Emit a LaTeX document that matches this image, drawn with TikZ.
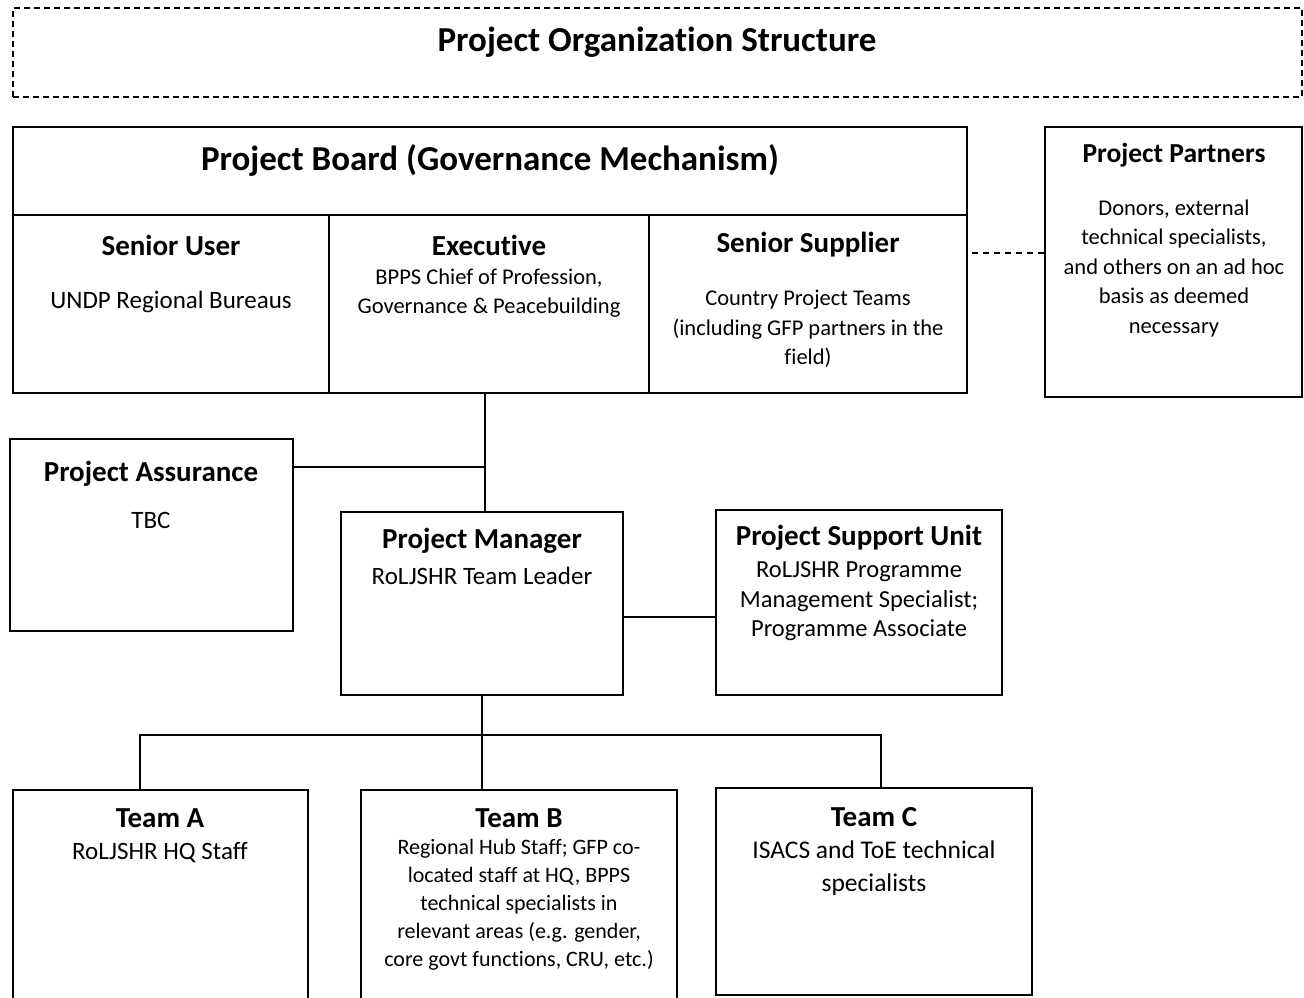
\documentclass[tikz,border=0pt]{standalone}
\usepackage{fontspec}
\setmainfont[Ligatures=NoCommon]{Carlito}
\usetikzlibrary{positioning}

\begin{document}
\begin{tikzpicture}[x=1pt,y=-1pt,line width=1.6pt,
    box/.style={draw,rectangle,inner sep=0pt},
    head/.style={inner sep=0pt,align=center,font=\bfseries\fontsize{29}{34}\selectfont},
    body/.style={inner sep=0pt,align=center,font=\fontsize{25}{29.5}\selectfont},
    small body/.style={inner sep=0pt,align=center,font=\fontsize{22.5}{29.5}\selectfont}]

            \useasboundingbox (0,0) rectangle (1304,997);

            \node[box, dashed, dash pattern=on 6pt off 4pt, line width=1.3pt, minimum width=1289, minimum height=89] (title) at (657.5,52.5) {};
            \node[inner sep=0pt, font=\bfseries\fontsize{35}{40}\selectfont] (titletext) at (657,42) {Project Organization Structure};

            \node[box, minimum width=954, minimum height=88] (board) at (490,171) {};
            \node[box, minimum width=316, minimum height=178] (user) at (171,304) {};
            \node[box, minimum width=320, minimum height=178] (exec) at (489,304) {};
            \node[box, minimum width=318, minimum height=178] (supplier) at (808,304) {};
            \node[box, minimum width=257, minimum height=270] (partners) at (1173.5,262) {};

            \node[inner sep=0pt, font=\bfseries\fontsize{35}{40}\selectfont] (boardtext) at (490,160) {Project Board (Governance Mechanism)};
            \node[head] (userhead) at (171,245) {Senior User};
            \node[body] (userbody) at (171,302) {UNDP Regional Bureaus};
            \node[head] (exechead) at (489,245) {Executive};
            \node[small body] (execbody) at (489,293) {BPPS Chief of Profession,\\Governance \& Peacebuilding};
            \node[head] (supplierhead) at (808,245) {Senior Supplier};
            \node[small body] (supplierbody) at (808,329) {Country Project Teams\\(including GFP partners in the\\field)};
            \node[head, font=\bfseries\fontsize{27.5}{32}\selectfont] (partnershead) at (1174,155) {Project Partners};
            \node[small body] (partnersbody) at (1174,268) {Donors, external\\technical specialists,\\and others on an ad hoc\\basis as deemed\\necessary};

            \node[box, minimum width=283, minimum height=192] (assurance) at (151.5,535) {};
            \node[head] (assurancehead) at (151,474) {Project Assurance};
            \node[body] (assurancebody) at (151,520) {TBC};

            \node[box, minimum width=282, minimum height=183] (manager) at (482,603.5) {};
            \node[head] (managerhead) at (482,541) {Project Manager};
            \node[body] (managerbody) at (482,576) {RoLJSHR Team Leader};

            \node[box, minimum width=286, minimum height=185] (support) at (859,602.5) {};
            \node[head] (supporthead) at (859,538) {Project Support Unit};
            \node[small body, font=\fontsize{24.5}{29.5}\selectfont] (supportbody) at (859,601.5) {RoLJSHR Programme\\Management Specialist;\\Programme Associate};

            \node[box, minimum width=295, minimum height=220] (teamA) at (160.5,900) {};
            \node[head] (teamAhead) at (160,818) {Team A};
            \node[body] (teamAbody) at (160,853) {RoLJSHR HQ Staff};

            \node[box, minimum width=316, minimum height=220] (teamB) at (519,900) {};
            \node[head] (teamBhead) at (519,818) {Team B};
            \node[body, font=\fontsize{22}{28}\selectfont] (teamBbody) at (519,905) {Regional Hub Staff; GFP co-\\located staff at HQ, BPPS\\technical specialists in\\relevant areas (e.g. gender,\\core govt functions, CRU, etc.)};

            \node[box, minimum width=316, minimum height=207] (teamC) at (874,891.5) {};
            \node[head] (teamChead) at (874,817) {Team C};
            \node[body, font=\fontsize{25.5}{33}\selectfont] (teamCbody) at (874,868.5) {ISACS and ToE technical\\specialists};

            \coordinate (assurancejoin) at (485,467);
            \coordinate (bus) at (481,735);

            \draw[dashed, dash pattern=on 6pt off 5pt, line width=1.2pt] ([yshift=9pt]partners.west) -- ([yshift=9pt]partners.west -| supplier.east);
            \draw (exec.south -| assurancejoin) -- (manager.north -| assurancejoin);
            \draw (assurancejoin -| assurance.east) -- (assurancejoin);
            \draw ([yshift=-13.5pt]manager.east) -- ([yshift=-13.5pt]manager.east -| support.west);
            \draw (manager.south) -- (manager.south |- teamB.north);
            \draw ([xshift=-20.5pt]teamA.north) -- ([xshift=-20.5pt]teamA.north |- bus) -- ([xshift=7pt]teamC.north |- bus) -- ([xshift=7pt]teamC.north);

        \end{tikzpicture}
\end{document}
